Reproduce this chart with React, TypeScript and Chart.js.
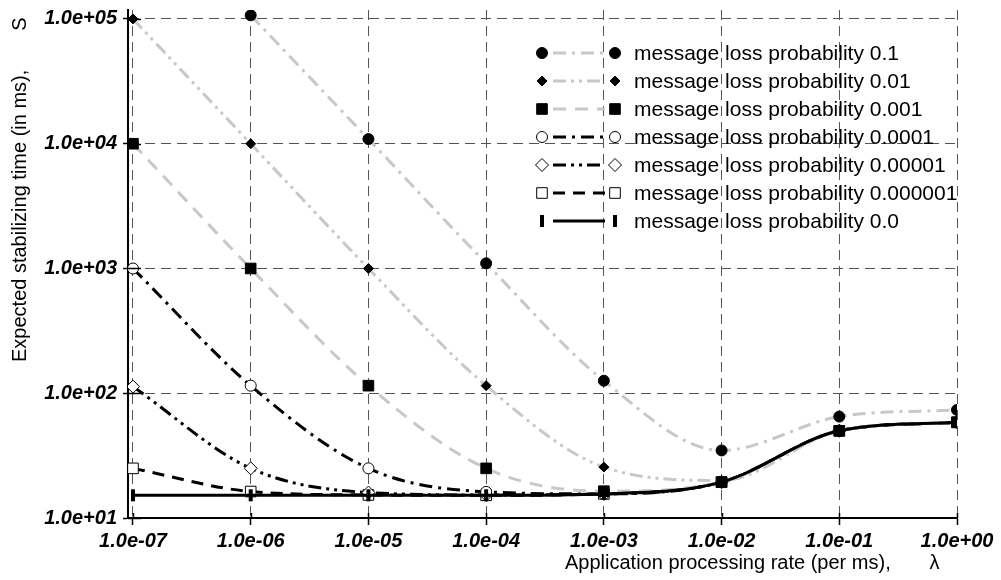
import React, { useEffect, useRef } from 'react';
import { Chart, registerables } from 'chart.js';
import { drawPoint } from 'chart.js/helpers';

Chart.register(...registerables);

// ---- data ----
const X_VALUES = [1e-7, 1e-6, 1e-5, 1e-4, 1e-3, 1e-2, 1e-1, 1e0];
const X_TICKS = [1e-7, 1e-6, 1e-5, 1e-4, 1e-3, 1e-2, 1e-1, 1e0];
const X_TICK_LABELS = ['1.0e-07', '1.0e-06', '1.0e-05', '1.0e-04', '1.0e-03', '1.0e-02', '1.0e-01', '1.0e+00'];
const Y_TICKS = [1e1, 1e2, 1e3, 1e4, 1e5];
const Y_TICK_LABELS = ['1.0e+01', '1.0e+02', '1.0e+03', '1.0e+04', '1.0e+05'];

const SERIES_LABELS = [
  'message loss probability 0.1',
  'message loss probability 0.01',
  'message loss probability 0.001',
  'message loss probability 0.0001',
  'message loss probability 0.00001',
  'message loss probability 0.000001',
  'message loss probability 0.0',
];

const LOSS_1E_1 = [null, 107000, 10900, 1100, 126, 34.8, 65, 73.5];
const LOSS_1E_2 = [100000, 10000, 1000, 115, 25.6, 20, 50, 58.5];
const LOSS_1E_3 = [10000, 1000, 115, 25, 16.4, 19.4, 50, 58.5];
const LOSS_1E_4 = [1000, 115, 25, 16.2, 15.6, 19.4, 50, 58.5];
const LOSS_1E_5 = [113, 25, 16, 15.3, 15.6, 19.4, 50, 58.5];
const LOSS_1E_6 = [25, 16.3, 15.3, 15.2, 15.6, 19.4, 50, 58.5];
const LOSS_0 = [15.2, 15.2, 15.2, 15.2, 15.6, 19.4, 50, 58.5];

const X_TITLE = 'Application processing rate (per ms),       \u03BB';
const Y_TITLE = 'Expected stabilizing time (in ms),       S';

// ---- styles ----
const GRAY = '#c8c8c8';
const BLACK = '#000000';
const FONT = '"Liberation Sans", Arial, Helvetica, sans-serif';

const STYLES = [
  { color: GRAY, dash: [13, 6, 3, 6], point: 'circle', radius: 5.5, fill: BLACK, rot: 0, pbw: 1 },
  { color: GRAY, dash: [13, 5, 3, 5, 3, 5], point: 'rectRot', radius: 5, fill: BLACK, rot: 0, pbw: 1 },
  { color: GRAY, dash: [13, 9], point: 'rect', radius: 7.5, fill: BLACK, rot: 0, pbw: 1 },
  { color: BLACK, dash: [13, 6, 3, 6], point: 'circle', radius: 5.5, fill: '#ffffff', rot: 0, pbw: 1 },
  { color: BLACK, dash: [13, 5, 3, 5, 3, 5], point: 'rectRot', radius: 6.5, fill: '#ffffff', rot: 0, pbw: 1 },
  { color: BLACK, dash: [12, 8], point: 'rect', radius: 7.5, fill: '#ffffff', rot: 0, pbw: 1 },
  { color: BLACK, dash: [], point: 'line', radius: 6, fill: BLACK, rot: 90, pbw: 4 },
];
const DRAW_ORDER = [2, 2, 1, 4, 5, 6, 0];

const SERIES = [LOSS_1E_1, LOSS_1E_2, LOSS_1E_3, LOSS_1E_4, LOSS_1E_5, LOSS_1E_6, LOSS_0];

const extrasPlugin = {
  id: 'extras',
  afterDraw(chart: any) {
    const ctx = chart.ctx as CanvasRenderingContext2D;
    const area = chart.chartArea;
    const xs = chart.scales.x;
    const ys = chart.scales.y;
    ctx.save();
    // inner ticks
    ctx.strokeStyle = BLACK;
    ctx.lineWidth = 1.5;
    ctx.setLineDash([]);
    Y_TICKS.forEach((v) => {
      const y = Math.round(ys.getPixelForValue(v)) + 0.5;
      ctx.beginPath();
      ctx.moveTo(area.left, y);
      ctx.lineTo(area.left + 13, y);
      ctx.stroke();
    });
    X_TICKS.forEach((v) => {
      const x = Math.round(xs.getPixelForValue(v)) + 0.5;
      ctx.beginPath();
      ctx.moveTo(x, area.bottom);
      ctx.lineTo(x, area.bottom - 5);
      ctx.stroke();
    });

    // axis titles
    ctx.fillStyle = BLACK;
    ctx.font = `20px ${FONT}`;
    ctx.textBaseline = 'alphabetic';
    ctx.textAlign = 'left';
    ctx.fillText(X_TITLE, 565, 569);
    ctx.save();
    ctx.translate(26, 362);
    ctx.rotate(-Math.PI / 2);
    ctx.fillText(Y_TITLE, 0, 0);
    ctx.restore();

    // legend
    chart.data.datasets.forEach((ds: any, i: number) => {
      const st = STYLES[i];
      const y = 53 + i * 28;
      ctx.save();
      ctx.strokeStyle = st.color;
      ctx.lineWidth = 3;
      ctx.setLineDash(st.dash);
      ctx.beginPath();
      ctx.moveTo(553, y);
      ctx.lineTo(605, y);
      ctx.stroke();
      ctx.setLineDash([]);
      ctx.fillStyle = st.fill;
      ctx.strokeStyle = BLACK;
      ctx.lineWidth = st.pbw;
      const opts = { pointStyle: st.point, radius: st.radius, rotation: st.rot, borderWidth: st.pbw };
      drawPoint(ctx, opts as any, 542, y);
      drawPoint(ctx, opts as any, 615, y);
      ctx.fillStyle = BLACK;
      ctx.font = `21px ${FONT}`;
      ctx.textBaseline = 'middle';
      ctx.textAlign = 'left';
      ctx.fillText(ds.label, 634, y + 1);
      ctx.restore();
    });
    ctx.restore();
  },
};

export default function App() {
  const ref = useRef<HTMLCanvasElement | null>(null);
  useEffect(() => {
    if (!ref.current) return;
    const datasets = SERIES.map((s, i) => {
      const st = STYLES[i];
      return {
        label: SERIES_LABELS[i],
        data: X_VALUES.map((x, j) => ({ x, y: s[j] })),
        borderColor: st.color,
        borderWidth: 3,
        borderDash: st.dash,
        cubicInterpolationMode: 'monotone' as const,
        pointStyle: st.point,
        pointRadius: st.radius,
        pointRotation: st.rot,
        pointBackgroundColor: st.fill,
        pointBorderColor: BLACK,
        pointBorderWidth: st.pbw,
        fill: false,
        order: DRAW_ORDER[i],
      };
    });
    const tickFont = { family: FONT, size: 20, weight: 'bold' as const, style: 'italic' as const };
    const chart = new Chart(ref.current, {
      type: 'line',
      data: { datasets: datasets as any },
      options: {
        animation: false,
        responsive: true,
        maintainAspectRatio: false,
        layout: { padding: { top: 7, right: 44, left: 0, bottom: 0 } },
        plugins: { legend: { display: false }, tooltip: { enabled: false } },
        scales: {
          x: {
            type: 'logarithmic',
            min: 9.07e-8,
            max: 1,
            afterBuildTicks: (s: any) => {
              s.ticks = X_TICKS.map((v) => ({ value: v }));
            },
            afterFit: (s: any) => {
              s.height = 62;
              s.paddingLeft = 0;
              s.paddingRight = 0;
            },
            ticks: {
              autoSkip: false,
              maxRotation: 0,
              minRotation: 0,
              padding: 4,
              color: BLACK,
              font: tickFont,
              callback: (_v: any, i: number) => X_TICK_LABELS[i],
            },
            grid: {
              color: '#555555',
              lineWidth: 1,
              drawTicks: true,
              tickLength: 7,
              tickColor: BLACK,
              tickWidth: 1.5,
              tickBorderDash: [],
            },
            border: { display: true, color: BLACK, width: 2, dash: [10, 6] },
          },
          y: {
            type: 'logarithmic',
            min: 10,
            max: 118000,
            afterBuildTicks: (s: any) => {
              s.ticks = Y_TICKS.map((v) => ({ value: v }));
            },
            afterFit: (s: any) => {
              s.width = 128;
              s.paddingTop = 0;
              s.paddingBottom = 0;
            },
            ticks: {
              autoSkip: false,
              padding: 6,
              color: BLACK,
              font: tickFont,
              callback: (_v: any, i: number) => Y_TICK_LABELS[i],
            },
            grid: {
              color: '#555555',
              lineWidth: 1,
              drawTicks: true,
              tickLength: 5,
              tickColor: BLACK,
              tickWidth: 1.5,
              tickBorderDash: [],
            },
            border: { display: true, color: BLACK, width: 2, dash: [10, 6] },
          },
        },
      },
      plugins: [extrasPlugin],
    });
    return () => chart.destroy();
  }, []);
  return (
    <div style={{ position: 'fixed', left: 0, top: 0, width: 1001, height: 580, background: '#fff' }}>
      <canvas ref={ref} />
    </div>
  );
}
